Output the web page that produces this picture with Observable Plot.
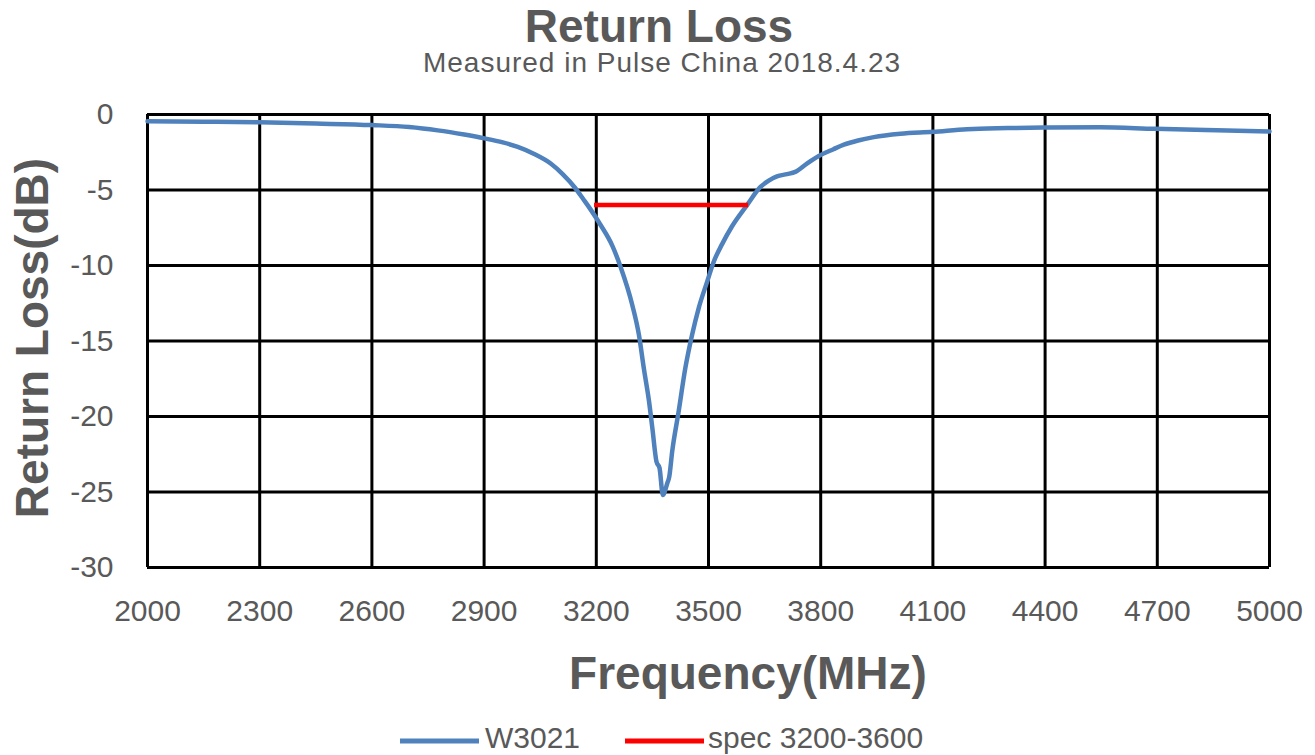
<!DOCTYPE html>
<html>
<head>
<meta charset="utf-8">
<script src="https://cdn.jsdelivr.net/npm/d3@7"></script>
<script src="https://cdn.jsdelivr.net/npm/@observablehq/plot@0.6"></script>
<style>
  html, body { margin: 0; padding: 0; background: #fff; }
  #wrap { position: relative; width: 1315px; height: 755px; overflow: hidden; }
  #overlay { position: absolute; left: 0; top: 0; pointer-events: none; }
  #overlay text { font-family: "Liberation Sans", Arial, sans-serif; fill: #595959; }
</style>
</head>
<body>
<div id="wrap">
  <div id="chart"></div>
  <svg id="overlay" width="1315" height="755">
    <text x="659" y="42" text-anchor="middle" font-size="46" font-weight="bold">Return Loss</text>
    <text x="662" y="72" text-anchor="middle" font-size="28" letter-spacing="1">Measured in Pulse China 2018.4.23</text>
    <text x="748" y="689" text-anchor="middle" font-size="46" font-weight="bold">Frequency(MHz)</text>
    <text transform="translate(48,338) rotate(-90)" text-anchor="middle" font-size="46" font-weight="bold">Return Loss(dB)</text>
    <line x1="400" x2="479" y1="741" y2="741" stroke="#4f81bd" stroke-width="5"></line>
    <text x="485" y="748" font-size="30">W3021</text>
    <line x1="625" x2="704" y1="741" y2="741" stroke="#ff0000" stroke-width="5"></line>
    <text x="708" y="748" font-size="30">spec 3200-3600</text>
  </svg>
</div>
<script>
// Measured return loss of W3021 (frequency in MHz, return loss in dB)
const freq = [2000, 2150, 2300, 2450, 2600, 2700, 2776, 2847, 2901, 2950, 2990, 3034, 3078, 3110,
  3143, 3165, 3185, 3211, 3243, 3265, 3296, 3314, 3327, 3341, 3350, 3361, 3369, 3378,
  3390, 3395, 3403, 3420, 3438, 3456, 3474, 3496, 3514, 3536, 3563, 3603, 3639, 3660, 3683,
  3710, 3732, 3763, 3795, 3834, 3862, 3900, 3942, 4013, 4100, 4191, 4300, 4395, 4547, 4694,
  4859, 5000];
const returnLoss = [-0.45, -0.48, -0.52, -0.6, -0.7, -0.83, -1.05, -1.33, -1.58, -1.85, -2.15, -2.62, -3.25, -3.95,
  -4.85, -5.6, -6.3, -7.3, -8.7, -10.1, -12.6, -14.6, -16.8, -19.0, -20.8, -23.0, -23.4, -25.2,
  -24.4, -24.0, -22.3, -19.7, -16.8, -14.6, -12.8, -11.1, -9.75, -8.6, -7.4, -6.0, -4.8, -4.4, -4.1,
  -3.95, -3.8, -3.25, -2.75, -2.3, -2.0, -1.72, -1.5, -1.28, -1.15, -0.97, -0.9, -0.86, -0.84, -0.95,
  -1.05, -1.13];

// Spec line 3200-3600 MHz at -6 dB
const specFreq = [3200, 3600];
const specLoss = [-6, -6];

// Axis ticks
const xTicks = [2000, 2300, 2600, 2900, 3200, 3500, 3800, 4100, 4400, 4700, 5000];
const yTicks = [0, -5, -10, -15, -20, -25, -30];

const measured = freq.map((f, i) => ({f, rl: returnLoss[i]}));
const spec = specFreq.map((f, i) => ({f, rl: specLoss[i]}));

const chart = Plot.plot({
  width: 1315,
  height: 755,
  marginTop: 114,
  marginLeft: 147,
  marginRight: 46,
  marginBottom: 188,
  style: {fontFamily: '"Liberation Sans", Arial, sans-serif', fontSize: "30px", color: "#595959", background: "transparent"},
  x: {domain: [2000, 5000], ticks: xTicks},
  y: {domain: [-30, 0], ticks: yTicks},
  marks: [
    Plot.gridX(xTicks, {stroke: "black", strokeOpacity: 1, strokeWidth: 3}),
    Plot.gridY(yTicks, {stroke: "black", strokeOpacity: 1, strokeWidth: 3}),
    Plot.axisX(xTicks, {tickSize: 0, tickPadding: 32, fontSize: 30, label: null, tickFormat: d => String(d)}),
    Plot.axisY(yTicks, {tickSize: 0, tickPadding: 34, fontSize: 30, label: null, tickFormat: d => String(d)}),
    Plot.line(measured, {x: "f", y: "rl", stroke: "#4f81bd", strokeWidth: 4.5, curve: "monotone-x"}),
    Plot.line(spec, {x: "f", y: "rl", stroke: "#ff0000", strokeWidth: 4.5, strokeLinecap: "square"})
  ]
});
document.getElementById("chart").appendChild(chart);
</script>
</body>
</html>
